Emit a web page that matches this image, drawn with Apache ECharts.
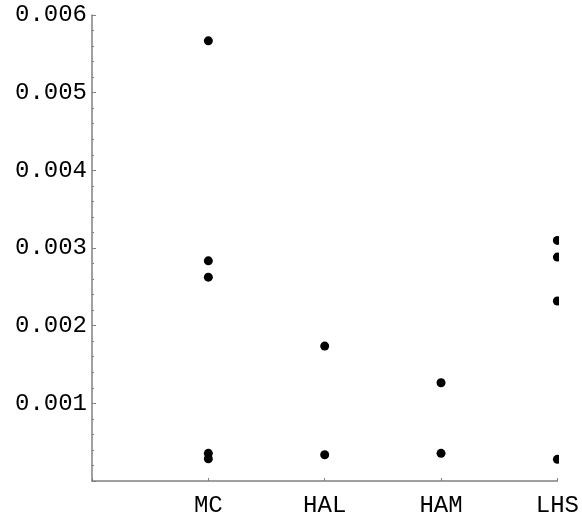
<!DOCTYPE html>
<html>
<head>
<meta charset="utf-8">
<script src="https://cdn.jsdelivr.net/npm/echarts@6/dist/echarts.min.js"></script>
<style>html,body{margin:0;padding:0;background:#fff}#c{width:582px;height:519px}</style>
</head>
<body>
<div id="c"></div>
<script>
var categories = ['MC', 'HAL', 'HAM', 'LHS'];
var mcValues  = [0.005667, 0.002835, 0.002625, 0.000356, 0.000287];
var halValues = [0.001737, 0.000338];
var hamValues = [0.001265, 0.000356];
var lhsValues = [0.003098, 0.002883, 0.002317, 0.000279];
var yTicks = ['0.001', '0.002', '0.003', '0.004', '0.005', '0.006'];

var groups = [mcValues, halValues, hamValues, lhsValues];
var data = [];
groups.forEach(function (vals, i) {
  vals.forEach(function (v) { data.push([i + 1, v]); });
});

var font = 'Liberation Mono';
var chart = echarts.init(document.getElementById('c'));
chart.setOption({
  animation: false,
  backgroundColor: '#fff',
  grid: { left: 92, right: 24, top: 15, bottom: 38, containLabel: false },
  graphic: [{
    type: 'rect', right: 0, top: 0, z: 100,
    shape: { width: 23, height: 478 },
    style: { fill: '#fff' }
  }],
  xAxis: {
    type: 'value', min: 0, max: 4, interval: 1,
    axisLine: { lineStyle: { color: '#808080', width: 1.5 } },
    axisTick: { inside: true, length: 3, lineStyle: { color: '#808080' } },
    splitLine: { show: false },
    axisLabel: {
      margin: 13, color: '#000', fontFamily: font, fontSize: 24,
      formatter: function (v) { return v >= 1 ? categories[v - 1] : ''; }
    }
  },
  yAxis: {
    type: 'value', min: 0, max: 0.006, interval: 0.001,
    axisLine: { show: true, lineStyle: { color: '#808080', width: 1.5 } },
    axisTick: { show: true, inside: true, length: 4, lineStyle: { color: '#808080' } },
    minorTick: { show: true, splitNumber: 5, length: 2, lineStyle: { color: '#808080' } },
    splitLine: { show: false },
    axisLabel: {
      margin: 5, color: '#000', fontFamily: font, fontSize: 24,
      formatter: function (v) {
        var k = Math.round(v * 1000);
        return k >= 1 ? yTicks[k - 1] : '';
      }
    }
  },
  series: [{
    type: 'scatter', data: data, symbolSize: 9, clip: true,
    itemStyle: { color: '#000', opacity: 1 }
  }]
});
</script>
</body>
</html>
